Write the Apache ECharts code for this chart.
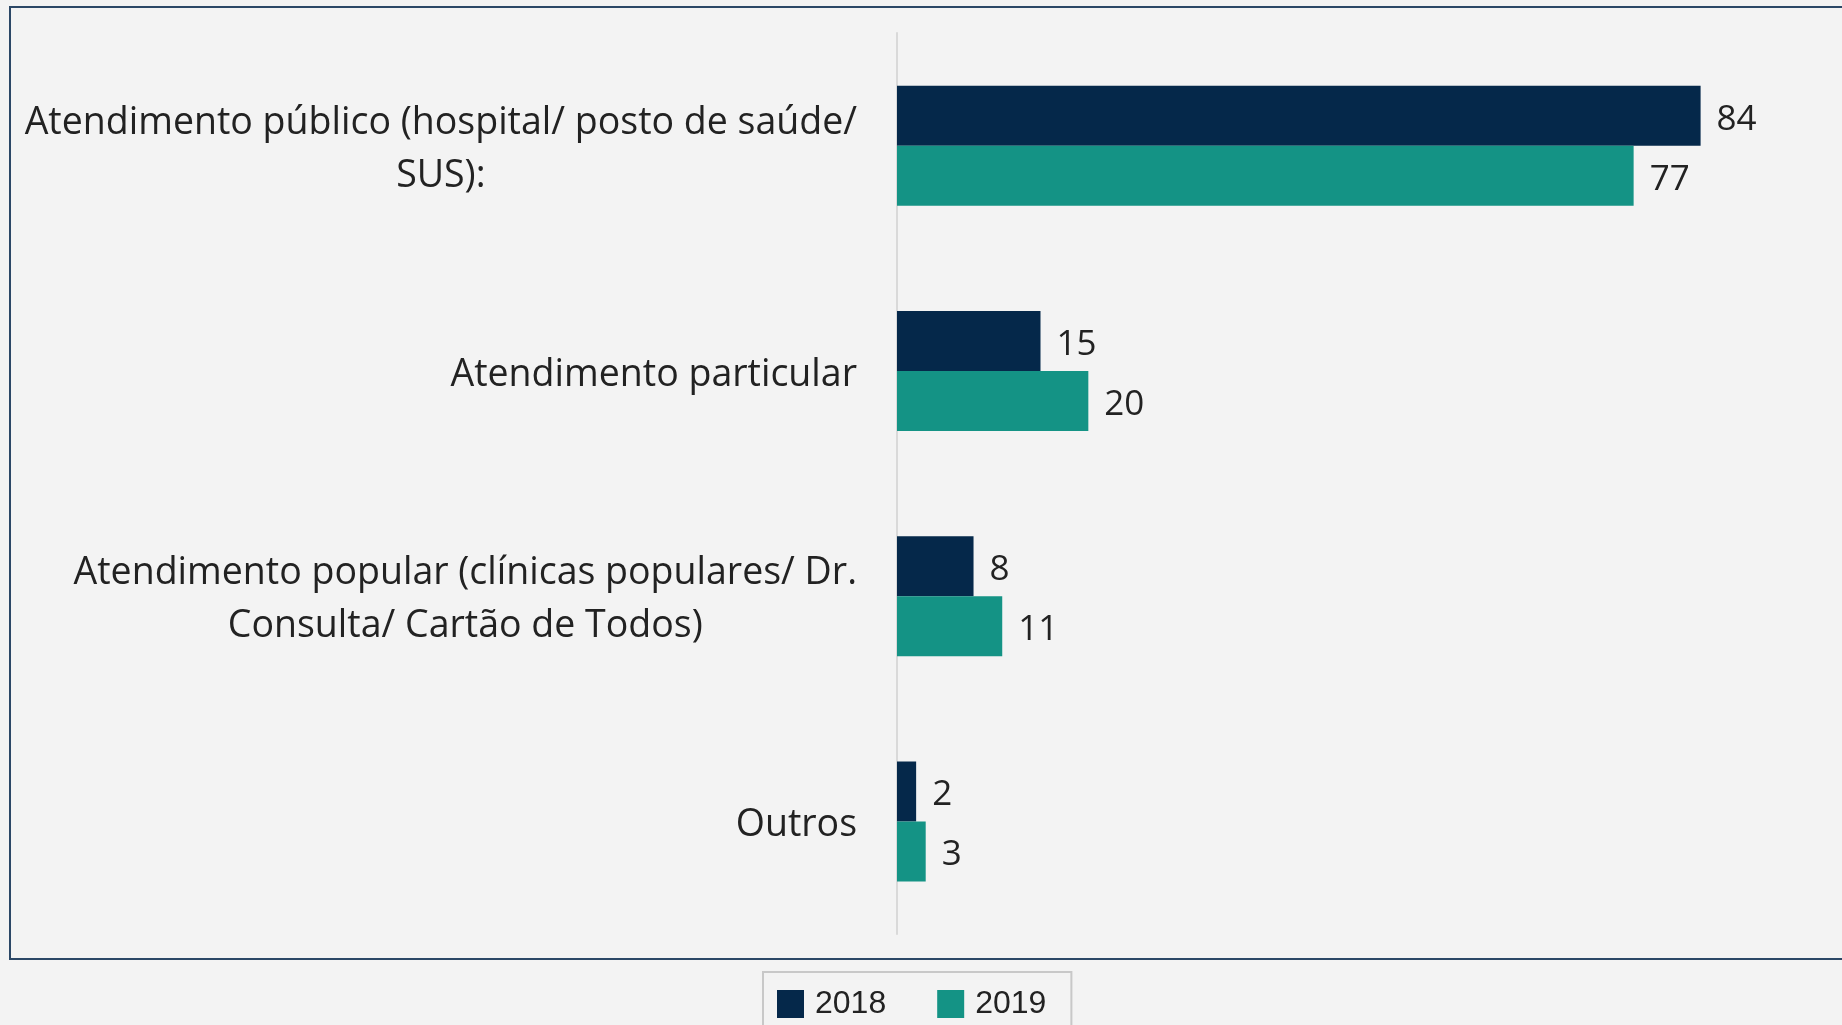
<!DOCTYPE html>
<html>
<head>
<meta charset="utf-8">
<script src="https://cdn.jsdelivr.net/npm/echarts@6/dist/echarts.min.js"></script>
<style>
    html, body { margin: 0; padding: 0; background: #f3f3f3; }
    #main { width: 1842px; height: 1025px; }
</style>
</head>
<body>
<div id="main"></div>
<script>
// 数据
var categories = [
    'Atendimento público (hospital/ posto de saúde/\nSUS):',
    'Atendimento particular',
    'Atendimento popular (clínicas populares/ Dr.\nConsulta/ Cartão de Todos)',
    'Outros'
];
var seriesNames = ['2018', '2019'];
var values2018 = [84, 15, 8, 2];
var values2019 = [77, 20, 11, 3];
var colorList = ['#05284a', '#149385'];

var labelFont = 'Open Sans';

// 每行居中，整体右对齐
var fmtCategory = function (val) {
    return val.split('\n').map(function (line) {
        return '{c|' + line + '}';
    }).join('\n');
};

var makeSeries = function (name, data, color) {
    return {
        name: name,
        type: 'bar',
        data: data,
        barWidth: 60,
        barGap: '0%',
        itemStyle: { color: color },
        label: {
            show: true,
            position: 'right',
            distance: 16,
            offset: [0, 4],
            color: '#222',
            fontFamily: labelFont,
            fontSize: 35
        }
    };
};

var option = {
    backgroundColor: '#f3f3f3',
    animation: false,
    graphic: [
        {
            type: 'rect',
            shape: { x: 10, y: 7, width: 1900, height: 952 },
            style: { fill: 'none', stroke: '#2b4766', lineWidth: 2 },
            silent: true
        }
    ],
    grid: {
        left: 897,
        top: 33,
        width: 861,
        height: 901
    },
    xAxis: {
        type: 'value',
        min: 0,
        max: 90,
        show: false
    },
    yAxis: {
        type: 'category',
        inverse: true,
        data: categories,
        axisLine: { show: true, lineStyle: { color: '#d9d9d9', width: 2 } },
        axisTick: { show: false },
        axisLabel: {
            margin: 40,
            align: 'right',
            padding: [8, 0, 0, 0],
            formatter: fmtCategory,
            rich: {
                c: {
                    align: 'center',
                    color: '#222',
                    fontFamily: labelFont,
                    fontSize: 37.5,
                    lineHeight: 53
                }
            }
        }
    },
    legend: {
        data: seriesNames,
        left: 763,
        top: 972,
        icon: 'rect',
        itemWidth: 27,
        itemHeight: 28,
        itemGap: 51,
        padding: [16, 25, 16, 14],
        borderColor: '#c8c8c8',
        borderWidth: 2,
        backgroundColor: '#f3f3f3',
        textStyle: {
            color: '#222',
            fontFamily: 'Liberation Sans',
            fontSize: 32,
            padding: [0, 0, 0, 6]
        }
    },
    series: [
        makeSeries(seriesNames[0], values2018, colorList[0]),
        makeSeries(seriesNames[1], values2019, colorList[1])
    ]
};

echarts.init(document.getElementById('main')).setOption(option);
</script>
</body>
</html>
